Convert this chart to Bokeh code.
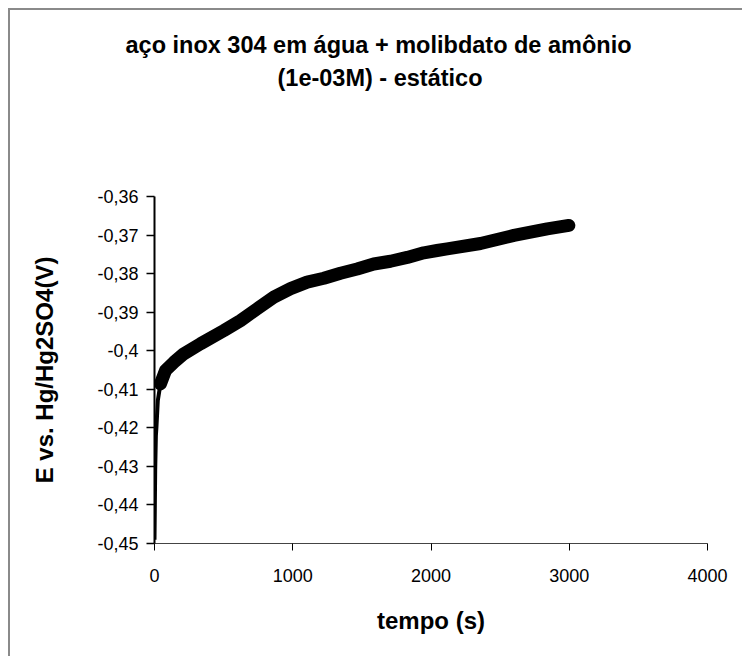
from bokeh.plotting import figure
from bokeh.models import FixedTicker, Title
from bokeh.embed import file_html
from bokeh.resources import INLINE

title_lines = ["aço inox 304 em água +  molibdato de amônio", "(1e-03M) - estático"]
x_label = "tempo (s)"
y_label = "E vs. Hg/Hg2SO4(V)"

x_ticks = [0, 1000, 2000, 3000, 4000]
y_ticks = [-0.45, -0.44, -0.43, -0.42, -0.41, -0.40, -0.39, -0.38, -0.37, -0.36]
y_tick_labels = ["-0,45", "-0,44", "-0,43", "-0,42", "-0,41", "-0,4", "-0,39", "-0,38", "-0,37", "-0,36"]

# early, steep part of the transient
t_start = [0, 5, 10, 14, 24, 43]
e_start = [-0.449, -0.431, -0.422, -0.4198, -0.4129, -0.4086]

# main part of the curve
t_main = [43, 80, 140, 212, 333, 501, 622, 743, 863, 984, 1104, 1225, 1345, 1466,
          1586, 1707, 1828, 1948, 2044, 2117, 2358, 2600, 2841, 2997]
e_main = [-0.4086, -0.4051, -0.4030, -0.4008, -0.3982, -0.3948, -0.3922, -0.3891,
          -0.3861, -0.3839, -0.3822, -0.3812, -0.3799, -0.3788, -0.3775, -0.3768,
          -0.3758, -0.3746, -0.3740, -0.3736, -0.3722, -0.3701, -0.3684, -0.3675]

FONT = "Liberation Sans"

p = figure(width=734, height=648, output_backend="svg", toolbar_location=None,
           x_range=(0, 4000), y_range=(-0.45, -0.36),
           min_border_left=144, min_border_top=186, min_border_right=37, min_border_bottom=115,
           background_fill_color="white", border_fill_color="white",
           styles={"margin-left": "8px", "margin-top": "8px",
                   "border-left": "2px solid #8a8a8a", "border-top": "2px solid #8a8a8a"})
p.grid.visible = False
p.outline_line_color = None

p.line(t_start, e_start, line_color="black", line_width=4, line_join="round")
p.line(t_main, e_main, line_color="black", line_width=13, line_join="round", line_cap="round")

p.xaxis.ticker = FixedTicker(ticks=x_ticks)
p.yaxis.ticker = FixedTicker(ticks=y_ticks)
p.yaxis.major_label_overrides = {v: s for v, s in zip(y_ticks, y_tick_labels)}
for ax in (p.xaxis, p.yaxis):
    ax.minor_tick_line_color = None
    ax.major_tick_in = 0
    ax.major_label_text_font = FONT
    ax.major_label_text_font_size = "18px"
    ax.major_label_text_color = "black"
    ax.axis_label_text_font = FONT
    ax.axis_label_text_font_style = "bold"
    ax.axis_label_text_font_size = "24px"
    ax.axis_label_text_color = "black"
    ax.major_tick_line_color = "black"

p.yaxis.axis_line_width = 2
p.yaxis.major_tick_line_width = 1.5
p.yaxis.major_tick_out = 8
p.yaxis.major_label_standoff = 8
p.yaxis.axis_label = y_label
p.yaxis.axis_label_standoff = 36

p.xaxis.axis_line_width = 1.2
p.xaxis.axis_line_color = "#444444"
p.xaxis.major_tick_out = 7
p.xaxis.major_label_standoff = 18
p.xaxis.axis_label = x_label
p.xaxis.axis_label_standoff = 22

title_style = dict(text_font=FONT, text_font_style="bold", text_font_size="23.5px",
                   text_color="black")
# spacer between the plot area and the two title lines
p.add_layout(Title(text=" ", align="left", standoff=76, **title_style), "above")
# second title line, then the first one above it
p.add_layout(Title(text=title_lines[1], align="left", offset=123, standoff=4, **title_style), "above")
p.add_layout(Title(text=title_lines[0], align="left", offset=-29, standoff=6, **title_style), "above")

open("out.html", "w").write(file_html(p, INLINE))
